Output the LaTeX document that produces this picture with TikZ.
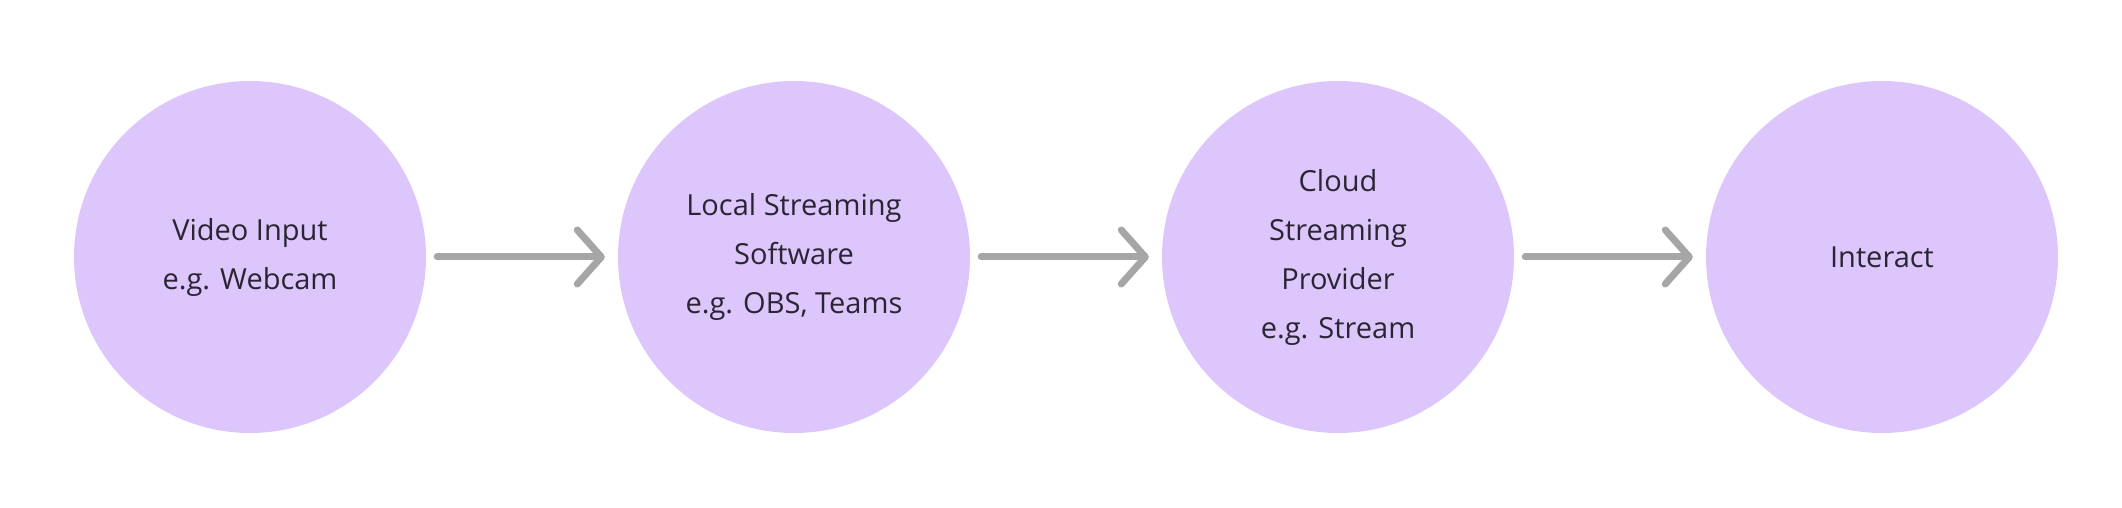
\documentclass[tikz,border=0pt]{standalone}
\usepackage{fontspec}
\setmainfont{Open Sans}
\usetikzlibrary{arrows.meta}
\definecolor{fillc}{HTML}{DCC6FC}
\definecolor{linec}{HTML}{A6A6A6}
\definecolor{txt}{HTML}{2B2433}
\begin{document}
\begin{tikzpicture}[x=1pt,y=1pt,
  stage/.style={circle,fill=fillc,minimum size=352pt,inner sep=0pt,align=center,
    text=txt,font=\fontsize{29}{49}\selectfont},
  flow/.style={draw=linec,line width=7pt,line cap=round,
    -{Straight Barb[length=24pt,width=54pt,line join=round,line cap=round]},
    shorten <=11pt,shorten >=13pt}]
\useasboundingbox (0,0) rectangle (2122,508);
\node[stage] (a) at (250,251) {Video Input\\e.g. Webcam};
\node[stage] (b) at (794,251) {Local Streaming\\Software\\e.g. OBS, Teams};
\node[stage] (c) at (1338,251) {Cloud\\Streaming\\Provider\\e.g. Stream};
\node[stage] (d) at (1882,251) {Interact};
\draw[flow] (a) -- (b);
\draw[flow] (b) -- (c);
\draw[flow] (c) -- (d);
\end{tikzpicture}
\end{document}
